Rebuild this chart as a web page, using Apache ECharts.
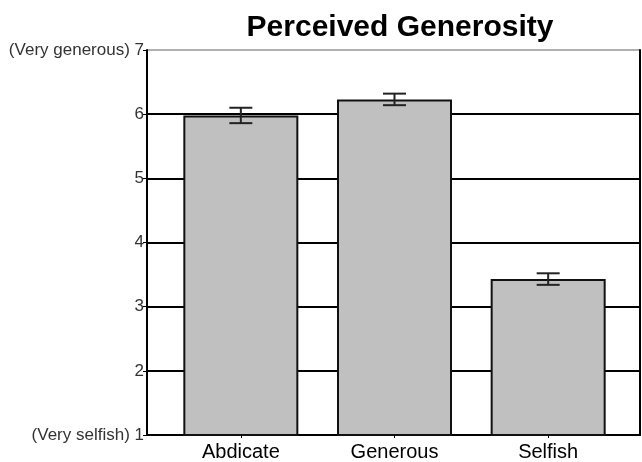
<!DOCTYPE html>
<html>
<head>
<meta charset="utf-8">
<script src="https://cdn.jsdelivr.net/npm/echarts@6/dist/echarts.min.js"></script>
<style>
  html, body { margin: 0; padding: 0; background: #fff; }
  #chart { width: 642px; height: 462px; }
</style>
</head>
<body>
<div id="chart"></div>
<script>
// Perceived generosity ratings by condition (1 = very selfish, 7 = very generous)
const categories = ['Abdicate', 'Generous', 'Selfish'];
const means = [5.98, 6.23, 3.43];
const stdErrors = [0.12, 0.09, 0.09];
const yTickLabels = { 7: '(Very generous) 7', 1: '(Very selfish) 1' };

const errorData = categories.map((c, i) => [i, means[i], stdErrors[i]]);

const chart = echarts.init(document.getElementById('chart'));
const FONT = '"Liberation Sans", Arial, sans-serif';

chart.setOption({
  animation: false,
  title: {
    text: 'Perceived Generosity',
    left: 395,
    top: 8,
    textAlign: 'center',
    textStyle: { fontFamily: FONT, fontSize: 30, fontWeight: 'bold', color: '#000' }
  },
  grid: [
    // outer frame: value scale, gridlines and borders
    { left: 147, right: 2, top: 50, bottom: 27, containLabel: false },
    // inner band holding the three bars
    { left: 164, right: 17, top: 50, bottom: 27, containLabel: false }
  ],
  xAxis: [{
    gridIndex: 0,
    type: 'value',
    min: 0,
    max: 1,
    axisLine: { show: true, onZero: false, lineStyle: { color: '#000', width: 2 } },
    axisTick: { show: false },
    axisLabel: { show: false },
    splitLine: { show: false }
  }, {
    gridIndex: 1,
    type: 'category',
    data: categories,
    axisLine: { show: false },
    axisTick: { show: true, alignWithLabel: true, length: 3, lineStyle: { color: '#000', width: 1 } },
    axisLabel: { fontFamily: FONT, fontSize: 20, color: '#000', margin: 7 },
    splitLine: { show: false }
  }],
  yAxis: [{
    gridIndex: 0,
    type: 'value',
    min: 1,
    max: 7,
    interval: 1,
    axisLine: { show: true, lineStyle: { color: '#000', width: 2 } },
    axisTick: { show: true, length: 4, lineStyle: { color: '#000', width: 1 } },
    axisLabel: {
      fontFamily: FONT, fontSize: 17, color: '#333', margin: 3,
      formatter: v => yTickLabels[v] || String(v)
    },
    splitLine: {
      show: true,
      lineStyle: { color: ['#000', '#000', '#000', '#000', '#000', '#000', '#b0b0b0'], width: 2 }
    }
  }, {
    gridIndex: 0,
    type: 'value',
    position: 'right',
    min: 1,
    max: 7,
    interval: 1,
    axisLine: { show: true, lineStyle: { color: '#000', width: 2 } },
    axisTick: { show: false },
    axisLabel: { show: false },
    splitLine: { show: false }
  }, {
    gridIndex: 1,
    type: 'value',
    min: 1,
    max: 7,
    interval: 1,
    show: false
  }],
  series: [{
    type: 'bar',
    xAxisIndex: 1,
    yAxisIndex: 2,
    data: means,
    barWidth: 115,
    itemStyle: { color: '#c0c0c0', borderColor: '#111', borderWidth: 2 },
    z: 2
  }, {
    type: 'custom',
    xAxisIndex: 1,
    yAxisIndex: 2,
    data: errorData,
    encode: { x: 0, y: 1 },
    z: 5,
    renderItem: function (params, api) {
      const idx = api.value(0);
      const m = api.value(1);
      const e = api.value(2);
      const top = api.coord([idx, m + e]);
      const bot = api.coord([idx, m - e]);
      const half = 11.5;
      const style = { stroke: '#222', lineWidth: 2 };
      return {
        type: 'group',
        children: [
          { type: 'line', shape: { x1: top[0], y1: top[1], x2: bot[0], y2: bot[1] }, style },
          { type: 'line', shape: { x1: top[0] - half, y1: top[1], x2: top[0] + half, y2: top[1] }, style },
          { type: 'line', shape: { x1: bot[0] - half, y1: bot[1], x2: bot[0] + half, y2: bot[1] }, style }
        ]
      };
    }
  }]
});
</script>
</body>
</html>
